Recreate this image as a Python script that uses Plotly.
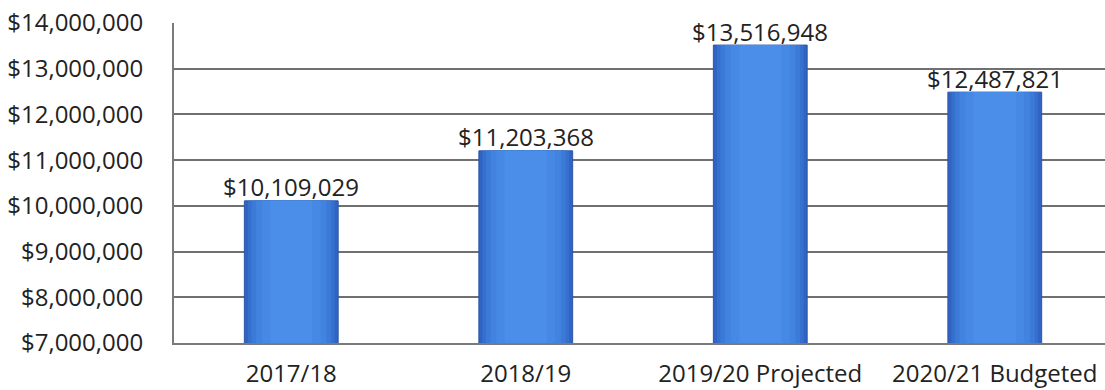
import plotly.graph_objects as go

categories = ["2017/18", "2018/19", "2019/20 Projected", "2020/21 Budgeted"]
values = [10109029, 11203368, 13516948, 12487821]
labels = ["$10,109,029", "$11,203,368", "$13,516,948", "$12,487,821"]
tick_vals = [7000000, 8000000, 9000000, 10000000, 11000000, 12000000, 13000000, 14000000]
tick_text = ["$7,000,000", "$8,000,000", "$9,000,000", "$10,000,000",
             "$11,000,000", "$12,000,000", "$13,000,000", "$14,000,000"]

FONT = "Open Sans"
TXT = "#222222"
fig = go.Figure()
# outer bar (darker edges)
fig.add_trace(go.Bar(
    x=categories, y=values, width=0.4,
    marker=dict(color="#3063C2", line=dict(color="#2A55A8", width=1)),
    hoverinfo="skip",
))
# inner lighter layers to mimic a soft horizontal gradient
for w, c in [(0.37, "#3670CE"), (0.34, "#3C7AD8"), (0.30, "#4283E0"),
             (0.25, "#4689E5"), (0.18, "#4A8EE9")]:
    fig.add_trace(go.Bar(
        x=categories, y=values, width=w,
        marker=dict(color=c, line=dict(width=0)), hoverinfo="skip",
    ))

for cat, val, lab in zip(categories, values, labels):
    fig.add_annotation(x=cat, y=val, text=lab, showarrow=False,
                       yanchor="middle", yshift=14,
                       font=dict(family=FONT, size=24, color=TXT))

fig.update_layout(
    width=1105, height=390,
    margin=dict(l=174, r=0, t=23, b=47),
    paper_bgcolor="white", plot_bgcolor="white",
    barmode="overlay", showlegend=False,
    font=dict(family=FONT, size=24, color=TXT),
    xaxis=dict(range=[-0.5, 3.47], showgrid=False, showline=True,
               linecolor="#7a7a7a", linewidth=2, ticks="",
               ticklabelstandoff=8,
               tickfont=dict(family=FONT, size=24, color=TXT)),
    yaxis=dict(range=[7000000, 14000000], tickvals=tick_vals, ticktext=tick_text,
               showgrid=True, gridcolor="#707070", gridwidth=2,
               showline=True, linecolor="#7a7a7a", linewidth=2,
               ticks="", zeroline=False, ticklabelstandoff=24,
               tickfont=dict(family=FONT, size=24, color=TXT)),
)
fig.write_html("out.html")
